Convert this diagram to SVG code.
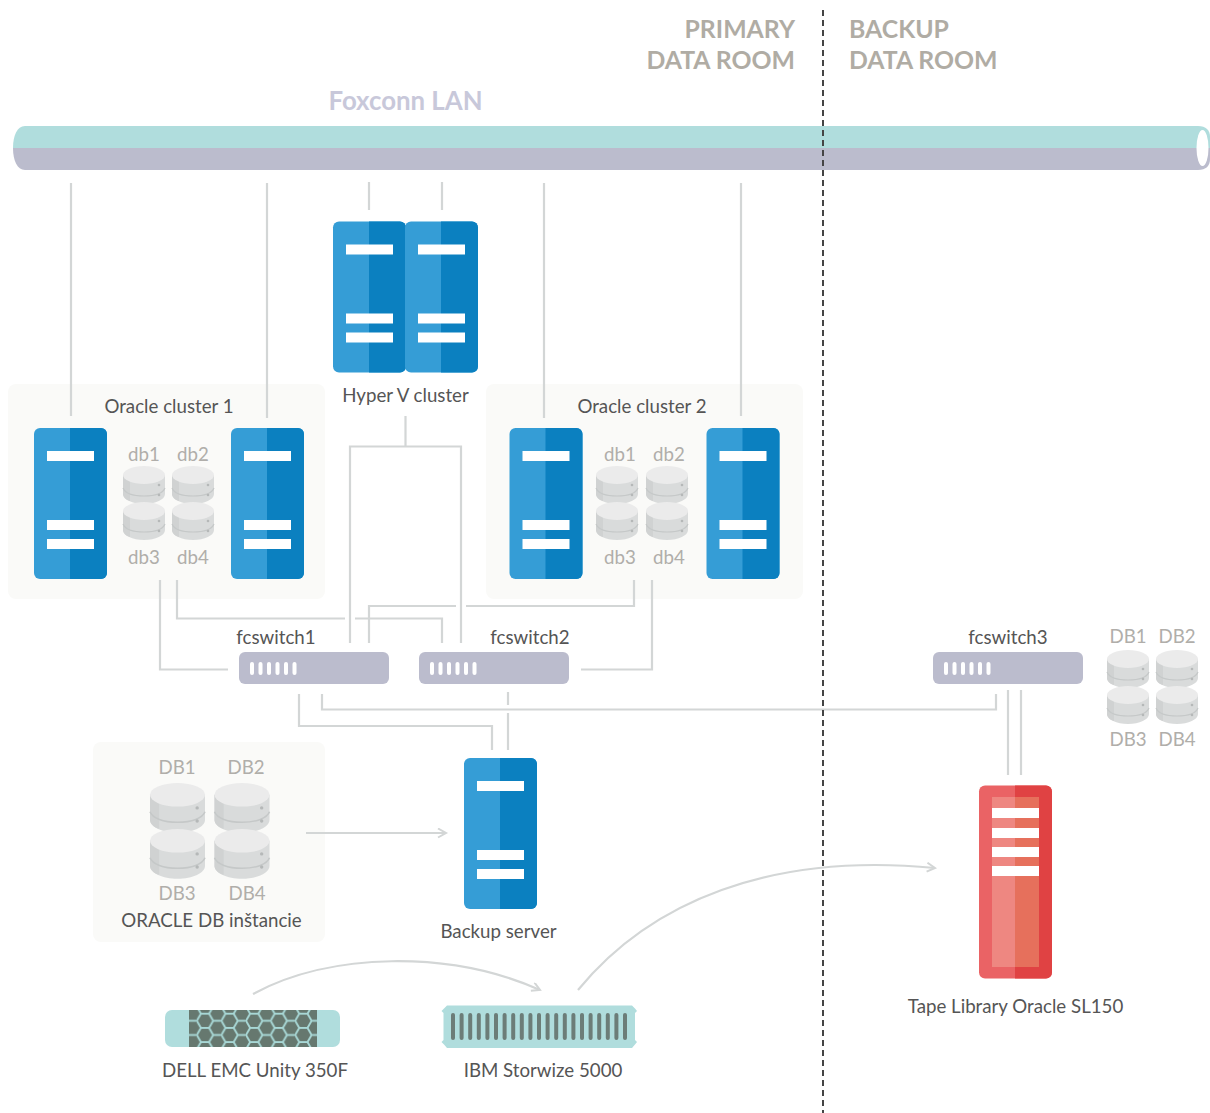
<svg xmlns="http://www.w3.org/2000/svg" width="1210" height="1113" viewBox="0 0 1210 1113">
<style>
text{font-family:"Lato","Open Sans","Liberation Sans",sans-serif}
.lbl{font-size:18.700px;fill:#555;text-anchor:middle}
.db{font-size:18.700px;fill:#b0aeaa;text-anchor:middle}
.title{font-size:24.800px;font-weight:700;fill:#b0aca4}
.panel{fill:#fafaf8}
.conn{fill:none;stroke:#d3d6d6;stroke-width:2.200}
.sw{fill:#bbbccd}
</style>
<defs>
<symbol id="server" width="73" height="151" viewBox="0 0 73 151" overflow="visible">
<rect width="73" height="151" rx="6" fill="#359dd6"/>
<path d="M36 0H67a6 6 0 0 1 6 6V145a6 6 0 0 1-6 6H36Z" fill="#0b80c0"/>
<rect x="13" y="23" width="47" height="10" fill="#fff"/>
<rect x="13" y="92" width="47" height="10" fill="#fff"/>
<rect x="13" y="111" width="47" height="10" fill="#fff"/>
</symbol>
<symbol id="disk" width="42" height="38" viewBox="0 0 42 38" overflow="visible">
<path d="M0 9V28C0 33.500 9.500 38 21 38S42 33.500 42 28V9Z" fill="#d9dbdb"/>
<path d="M0 9V28C0 31 3 34 7 35V9Z" fill="#d0d2d2"/>
<path d="M0 22C2 27 10 30 21 30S40 27 42 22" fill="none" stroke="#c5c8c8" stroke-width="1.200"/>
<ellipse cx="21" cy="9" rx="21" ry="9" fill="#ebebeb"/>
<circle cx="36" cy="19" r="1.300" fill="#b5b8b8"/>
<circle cx="36" cy="29" r="1.300" fill="#b5b8b8"/>
</symbol>
<symbol id="switchbox" width="150" height="32" viewBox="0 0 150 32" overflow="visible">
<rect width="150" height="32" rx="6" class="sw"/>
<g fill="#fff"><rect x="11" y="10" width="4" height="13" rx="2"/><rect x="19.500" y="10" width="4" height="13" rx="2"/><rect x="28" y="10" width="4" height="13" rx="2"/><rect x="36.500" y="10" width="4" height="13" rx="2"/><rect x="45" y="10" width="4" height="13" rx="2"/><rect x="53.500" y="10" width="4" height="13" rx="2"/></g>
</symbol>
<pattern id="hex" x="196.800" y="1027.900" width="24.600" height="14.200" patternUnits="userSpaceOnUse">
<rect width="24.600" height="14.200" fill="#66786f"/>
<path d="M0 7.100L4.100 0H12.300L16.400 7.100H24.600M16.400 7.100L12.300 14.200H4.100L0 7.100" fill="none" stroke="#a8d8d6" stroke-width="1.900"/>
</pattern>
<marker id="chev" markerWidth="12" markerHeight="12" refX="9" refY="5" orient="auto" markerUnits="userSpaceOnUse">
<path d="M1 0.500L9 5L1 9.500" fill="none" stroke="#d3d6d6" stroke-width="2"/>
</marker>
</defs>

<g id="panels">
<rect class="panel" x="8" y="384" width="317" height="215" rx="8"/>
<rect class="panel" x="486" y="384" width="317" height="215" rx="8"/>
<rect class="panel" x="93" y="742" width="232" height="200" rx="8"/>
</g>

<g id="lan">
<path d="M1210 148V137C1210 130 1206 126 1198 126H25C17 126 13 136 13 148Z" fill="#b0dddd"/>
<path d="M1210 148V159C1210 166 1206 170 1198 170H25C17 170 13 160 13 148Z" fill="#bbbccd"/>
<ellipse cx="1202.500" cy="148" rx="6" ry="18" fill="#fff"/>
<text x="405.500" y="109.500" text-anchor="middle" style="font-size:25.800px;font-weight:700;fill:#c8c8da">Foxconn LAN</text>
</g>

<g id="connectors">
<path class="conn" d="M71 183V416M267 183V418M369 182V210M442 182V210M544 183V418M741 183V416"/>
<path class="conn" d="M160 580V669.500H228"/>
<path class="conn" d="M177 580V618.500H345M355 618.500H442V643"/>
<path class="conn" d="M405.500 416V446.500M350 643V446.500H461V643"/>
<path class="conn" d="M369 643V606H456M466 606H634V580"/>
<path class="conn" d="M652 580V669.500H581"/>
<path class="conn" d="M299 694V726H492V750"/>
<path class="conn" d="M322 694V709.500H996V694"/>
<path class="conn" d="M508 692V705M508 713V750"/>
<path class="conn" d="M1008 690V775M1021 690V775"/>
<path class="conn" d="M306 833H446" marker-end="url(#chev)"/>
<path class="conn" d="M253 994C330 952 450 950 540 990" marker-end="url(#chev)"/>
<path class="conn" d="M578 990C650 902 770 852 935 868" marker-end="url(#chev)"/>
</g>

<g id="hyperv">
<use href="#server" x="333" y="221.500"/>
<use href="#server" x="405" y="221.500"/>
<text class="lbl" x="405.500" y="401.500">Hyper V cluster</text>
</g>

<g id="cluster1">
<text class="lbl" x="169" y="412.500">Oracle cluster 1</text>
<use href="#server" x="34" y="428"/>
<use href="#server" x="231" y="428"/>
<use href="#disk" x="123" y="466"/><use href="#disk" x="172" y="466"/>
<use href="#disk" x="123" y="502"/><use href="#disk" x="172" y="502"/>
<text class="db" x="144" y="460.500">db1</text><text class="db" x="193" y="460.500">db2</text>
<text class="db" x="144" y="563.500">db3</text><text class="db" x="193" y="563.500">db4</text>
</g>

<g id="cluster2">
<text class="lbl" x="642" y="412.500">Oracle cluster 2</text>
<use href="#server" x="509.500" y="428"/>
<use href="#server" x="706.500" y="428"/>
<use href="#disk" x="596" y="466"/><use href="#disk" x="646" y="466"/>
<use href="#disk" x="596" y="502"/><use href="#disk" x="646" y="502"/>
<text class="db" x="620" y="460.500">db1</text><text class="db" x="669" y="460.500">db2</text>
<text class="db" x="620" y="563.500">db3</text><text class="db" x="669" y="563.500">db4</text>
</g>

<g id="fcswitch1"><use href="#switchbox" x="239" y="652"/><text class="lbl" x="276" y="643.500">fcswitch1</text></g>
<g id="fcswitch2"><use href="#switchbox" x="419" y="652"/><text class="lbl" x="530" y="643.500">fcswitch2</text></g>
<g id="fcswitch3"><use href="#switchbox" x="933" y="652"/><text class="lbl" x="1008" y="643.500">fcswitch3</text></g>

<g id="backupdisks">
<use href="#disk" x="1107" y="650"/><use href="#disk" x="1156" y="650"/>
<use href="#disk" x="1107" y="686"/><use href="#disk" x="1156" y="686"/>
<text class="db" x="1128" y="642.500">DB1</text><text class="db" x="1177" y="642.500">DB2</text>
<text class="db" x="1128" y="745.500">DB3</text><text class="db" x="1177" y="745.500">DB4</text>
</g>

<g id="oracledb">
<use href="#disk" transform="translate(150 783) scale(1.310)"/><use href="#disk" transform="translate(214.500 783) scale(1.310)"/>
<use href="#disk" transform="translate(150 829) scale(1.310)"/><use href="#disk" transform="translate(214.500 829) scale(1.310)"/>
<text class="db" x="177" y="773.500">DB1</text><text class="db" x="246" y="773.500">DB2</text>
<text class="db" x="177" y="899.500">DB3</text><text class="db" x="247" y="899.500">DB4</text>
<text class="lbl" x="211.500" y="927">ORACLE DB inštancie</text>
</g>

<g id="backupserver">
<use href="#server" x="464" y="758"/>
<text class="lbl" x="498.500" y="937.500">Backup server</text>
</g>

<g id="tape">
<rect x="979" y="785.500" width="73" height="193" rx="6" fill="#ea6365"/>
<path d="M1015 785.500H1046a6 6 0 0 1 6 6V972.500a6 6 0 0 1-6 6H1015Z" fill="#e04243"/>
<rect x="992" y="797" width="23" height="170" fill="#ee8781"/>
<rect x="1015" y="797" width="24" height="170" fill="#e6705c"/>
<g fill="#fff"><rect x="992" y="808" width="47" height="10"/><rect x="992" y="828" width="47" height="10"/><rect x="992" y="847" width="47" height="10"/><rect x="992" y="866" width="47" height="10"/></g>
<text class="lbl" x="1015.500" y="1012.500">Tape Library Oracle SL150</text>
</g>

<g id="dell">
<rect x="165" y="1010" width="175" height="37" rx="7" fill="#b0dddd"/>
<rect x="189" y="1010" width="128" height="37" fill="url(#hex)"/>
<text class="lbl" x="255" y="1076.500">DELL EMC Unity 350F</text>
</g>

<g id="ibm">
<path d="M447 1005.500H632L635 1008.500L637 1011L635 1013V1040L637 1042L635 1044.500L632 1048H447L444 1044.500L441.500 1042L443.500 1040V1013L441.500 1011L444 1008.500Z" fill="#b0dddd"/>
<g fill="#6c7d78"><rect x="451" y="1013" width="4" height="27" rx="2"/><rect x="459.600" y="1013" width="4" height="27" rx="2"/><rect x="468.200" y="1013" width="4" height="27" rx="2"/><rect x="476.800" y="1013" width="4" height="27" rx="2"/><rect x="485.400" y="1013" width="4" height="27" rx="2"/><rect x="494" y="1013" width="4" height="27" rx="2"/><rect x="502.600" y="1013" width="4" height="27" rx="2"/><rect x="511.200" y="1013" width="4" height="27" rx="2"/><rect x="519.800" y="1013" width="4" height="27" rx="2"/><rect x="528.400" y="1013" width="4" height="27" rx="2"/><rect x="537" y="1013" width="4" height="27" rx="2"/><rect x="545.600" y="1013" width="4" height="27" rx="2"/><rect x="554.200" y="1013" width="4" height="27" rx="2"/><rect x="562.800" y="1013" width="4" height="27" rx="2"/><rect x="571.400" y="1013" width="4" height="27" rx="2"/><rect x="580" y="1013" width="4" height="27" rx="2"/><rect x="588.600" y="1013" width="4" height="27" rx="2"/><rect x="597.200" y="1013" width="4" height="27" rx="2"/><rect x="605.800" y="1013" width="4" height="27" rx="2"/><rect x="614.400" y="1013" width="4" height="27" rx="2"/><rect x="623" y="1013" width="4" height="27" rx="2"/></g>
<text class="lbl" x="543" y="1076.500">IBM Storwize 5000</text>
</g>

<g id="titles">
<text class="title" x="795" y="38" text-anchor="end">PRIMARY</text>
<text class="title" x="795" y="69" text-anchor="end">DATA ROOM</text>
<text class="title" x="849" y="38">BACKUP</text>
<text class="title" x="849" y="69">DATA ROOM</text>
</g>

<path id="divider" d="M823 10V1113" fill="none" stroke="#444" stroke-width="2" stroke-dasharray="6 4"/>
</svg>
